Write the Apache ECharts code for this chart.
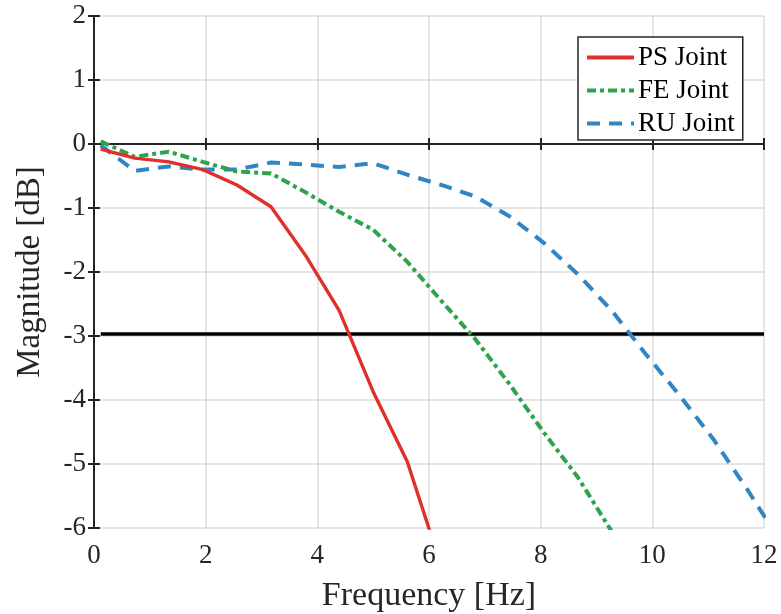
<!DOCTYPE html>
<html><head><meta charset="utf-8">
<script src="https://cdn.jsdelivr.net/npm/echarts@6/dist/echarts.min.js"></script>
<style>html,body{margin:0;padding:0;background:#fff}#c{width:781px;height:614px}</style>
</head><body><div id="c"></div>
<script>
const freq = [0.12, 0.73, 1.34, 1.95, 2.56, 3.17, 3.78, 4.39, 5.0, 5.61, 6.22, 6.83, 7.44, 8.05, 8.66, 9.27, 9.88, 10.49, 11.1, 11.71, 12.32];
const psJoint = [-0.08, -0.22, -0.28, -0.40, -0.64, -0.98, -1.73, -2.60, -3.87, -4.96, -6.6];
const feJoint = [0.04, -0.20, -0.12, -0.28, -0.43, -0.46, -0.75, -1.06, -1.34, -1.84, -2.45, -3.05, -3.75, -4.50, -5.20, -6.05];
const ruJoint = [-0.02, -0.42, -0.35, -0.40, -0.40, -0.29, -0.32, -0.36, -0.30, -0.48, -0.64, -0.82, -1.13, -1.54, -2.03, -2.60, -3.28, -3.93, -4.62, -5.41, -6.25];
const cutoffX = [0.12, 12];
const cutoffY = [-2.97, -2.97];
const xTicks = [0, 2, 4, 6, 8, 10, 12];
const yTicks = [2, 1, 0, -1, -2, -3, -4, -5, -6];

const pair = (ys) => ys.map((v, i) => [freq[i], v]);
const font = '"Liberation Serif", "Times New Roman", serif';
const axisLine = {show: true, lineStyle: {color: '#262626', width: 2}};
const tick = {show: true, inside: true, length: 6, lineStyle: {color: '#262626', width: 2}};

const chart = echarts.init(document.getElementById('c'));
chart.setOption({
  animation: false,
  backgroundColor: '#fff',
  grid: {left: 94, top: 16, right: 17, bottom: 86, containLabel: false, outerBoundsMode: 'none'},
  legend: {
    left: 578, top: 37, orient: 'vertical',
    itemWidth: 47, itemHeight: 10, itemGap: 6,
    backgroundColor: '#fff', borderColor: '#262626', borderWidth: 1.5,
    padding: [7, 8, 3, 7],
    itemStyle: {opacity: 0},
    lineStyle: {width: 4},
    textStyle: {fontFamily: font, fontSize: 27, lineHeight: 27, color: '#000', padding: [0, 0, 0, -1]},
    data: ['PS Joint', 'FE Joint', 'RU Joint']
  },
  xAxis: [{
    type: 'value', min: 0, max: 12, interval: 2,
    name: 'Frequency [Hz]', nameLocation: 'middle', nameGap: 51,
    nameTextStyle: {fontFamily: font, fontSize: 34, color: '#262626'},
    axisLine: axisLine, axisTick: tick,
    axisLabel: {fontFamily: font, fontSize: 27, color: '#262626', margin: 14, formatter: v => xTicks.includes(v) ? String(v) : ''},
    splitLine: {show: true, lineStyle: {color: '#dcdcdc', width: 1.5}}
  }, {
    type: 'value', position: 'top', min: 0, max: 12, interval: 2,
    axisLine: axisLine, axisTick: tick, axisLabel: {show: false}, splitLine: {show: false}
  }],
  yAxis: [{
    type: 'value', min: -6, max: 2, interval: 1,
    name: 'Magnitude [dB]', nameLocation: 'middle', nameGap: 47,
    nameTextStyle: {fontFamily: font, fontSize: 33, color: '#262626'},
    axisLine: axisLine, axisTick: tick,
    axisLabel: {fontFamily: font, fontSize: 27, color: '#262626', margin: 8, formatter: v => yTicks.includes(v) ? String(v) : ''},
    splitLine: {show: true, lineStyle: {color: '#dcdcdc', width: 1.5}}
  }, {
    type: 'value', position: 'right', min: -6, max: 2, interval: 1,
    axisLine: axisLine, axisTick: tick, axisLabel: {show: false}, splitLine: {show: false}
  }],
  series: [
    {name: 'PS Joint', type: 'line', data: pair(psJoint), symbol: 'none', clip: true,
     itemStyle: {color: '#E0302A'}, lineStyle: {color: '#E0302A', width: 3.4, type: 'solid'}, z: 5},
    {name: 'FE Joint', type: 'line', data: pair(feJoint), symbol: 'none', clip: true,
     itemStyle: {color: '#2EA34E'}, lineStyle: {color: '#2EA34E', width: 4, type: [9, 4, 4, 4]}, z: 4},
    {name: 'RU Joint', type: 'line', data: pair(ruJoint), symbol: 'none', clip: true,
     itemStyle: {color: '#3086C4'}, lineStyle: {color: '#3086C4', width: 4, type: [13, 9]}, z: 3},
    {name: 'cutoff', type: 'line', data: cutoffX.map((x, i) => [x, cutoffY[i]]), symbol: 'none', clip: true,
     lineStyle: {color: '#000', width: 3.5}, z: 2, silent: true}
  ]
});
</script></body></html>
